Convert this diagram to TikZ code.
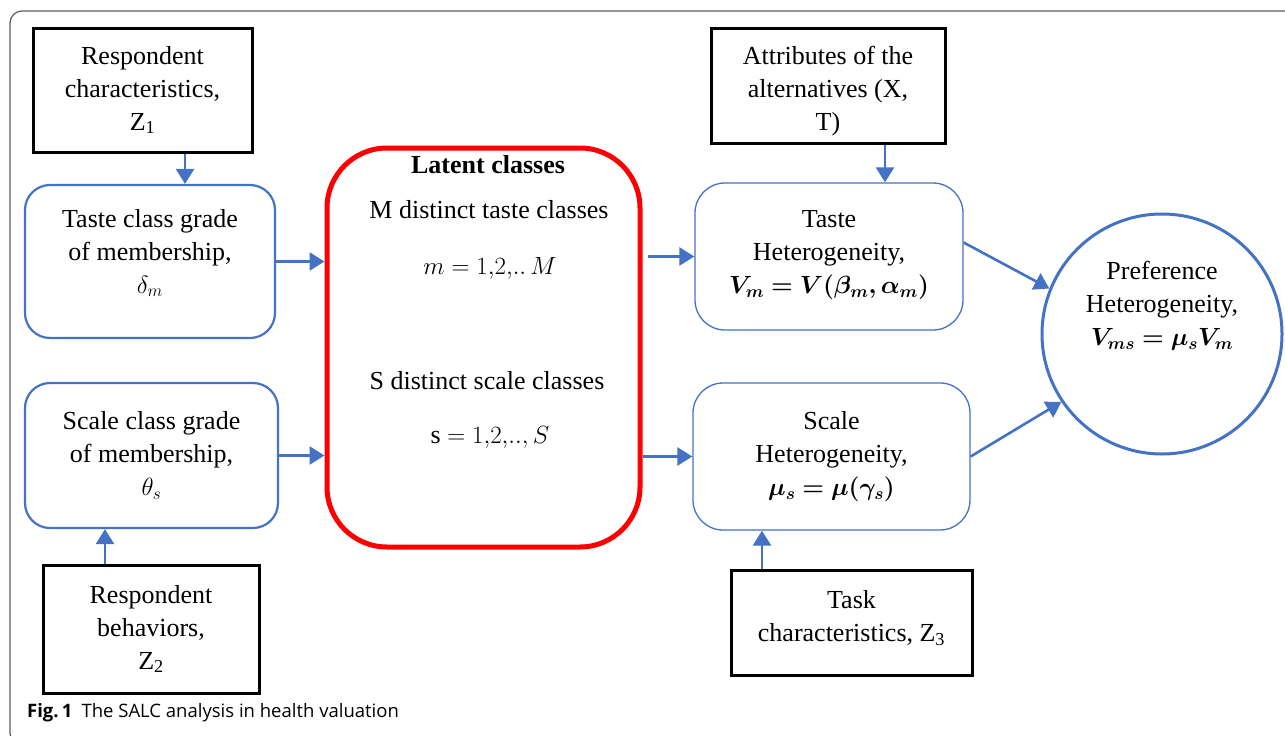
\documentclass[tikz,border=0pt]{standalone}
\usepackage{amsmath,bm}
\usepackage{fontspec}
\setmainfont{Liberation Serif}
\setsansfont{Open Sans}
\definecolor{flowblue}{RGB}{68, 114, 196}
\definecolor{latentred}{RGB}{255, 0, 0}
\definecolor{framegray}{RGB}{90, 90, 90}
\usetikzlibrary{arrows.meta}

\begin{document}
\begin{tikzpicture}[
                    x=1pt,
                    y=-1pt,
                    every node/.style={
                        align=center,
                        inner sep=0pt,
                        font=\fontsize{26}{33}\selectfont
                    },
                    inputbox/.style={
                        draw=black,
                        line width=3pt
                    },
                    gradebox/.style={
                        draw=flowblue,
                        line width=2.2pt,
                        rounded corners=25pt
                    },
                    hetbox/.style={
                        draw=flowblue,
                        line width=1.3pt,
                        rounded corners=30pt
                    },
                    latentbox/.style={
                        draw=latentred,
                        line width=5pt,
                        rounded corners=60pt
                    },
                    prefnode/.style={
                        circle,
                        draw=flowblue,
                        line width=3pt,
                        minimum size=240pt
                    },
                    flow/.style={
                        draw=flowblue,
                        line width=2.6pt,
                        -{Triangle[length=15pt,width=18pt]}
                    }
                ]
                    \useasboundingbox (0,0) rectangle (1285,736);
                    \draw[framegray, line width=1.2pt, rounded corners=12pt] (10,11) rectangle (1300,745);

                    \node[inputbox, minimum width=219pt, minimum height=124pt] (resp1) at (142.5,90)
                        {Respondent\\characteristics,\\Z\textsubscript{1}};
                    \node[gradebox, minimum width=250pt, minimum height=153pt] (tasteclass) at (150,261.5)
                        {Taste class grade\\of membership,\\$\delta_m$\\[-12pt]\mbox{}};
                    \node[gradebox, minimum width=253pt, minimum height=145pt] (scaleclass) at (151.5,455.5)
                        {Scale class grade\\of membership,\\$\theta_s$};
                    \node[inputbox, minimum width=216pt, minimum height=128pt] (resp2) at (151,629)
                        {Respondent\\behaviors,\\Z\textsubscript{2}};

                    \node[latentbox, minimum width=313pt, minimum height=399pt] (latent) at (483.5,347.5) {};
                    \node (latenthead) at (488,165) {\textbf{Latent classes}};
                    \node (tastecount) at (489,210) {M distinct taste classes};
                    \node (tasterange) at (490,268) {$m = 1{,}2{,}..\,M$};
                    \node (scalecount) at (487,381) {S distinct scale classes};
                    \node (scalerange) at (490,437) {s $= 1{,}2{,}..{,}\,S$};

                    \node[inputbox, minimum width=234pt, minimum height=115pt] (attrs) at (828,85.5)
                        {\mbox{}\\[-3pt]Attributes of the\\alternatives (X,\\T)};
                    \node[hetbox, minimum width=268pt, minimum height=147pt] (tastehet) at (829,256.5)
                        {Taste\\Heterogeneity,\\$\bm{V_m = V(\beta_m, \alpha_m)}$\\[-24pt]\mbox{}};
                    \node[hetbox, minimum width=277pt, minimum height=147pt] (scalehet) at (831.5,456.5)
                        {Scale\\Heterogeneity,\\$\bm{\mu_s = \mu(\gamma_s)}$};
                    \node[inputbox, minimum width=241pt, minimum height=105pt] (task) at (851.5,622.5)
                        {Task\\characteristics, Z\textsubscript{3}\\[-20pt]\mbox{}};

                    \node[prefnode] (pref) at (1162,334) {};
                    \node (preftext) at (1162,306)
                        {Preference\\Heterogeneity,\\$\bm{V_{ms} = \mu_s V_m}$};

                    \draw[flow] ([xshift=42.5pt]resp1.south) -- ([xshift=35pt]tasteclass.north);
                    \draw[flow] ([xshift=-46pt]resp2.north) -- ([xshift=-46.5pt]scaleclass.south);
                    \draw[flow] (tasteclass.east) -- (tasteclass.east -| latent.west);
                    \draw[flow] (scaleclass.east) -- (scaleclass.east -| latent.west);
                    \draw[flow, shorten <=5pt] (latent.east |- tastehet.west) -- (tastehet.west);
                    \draw[flow] (latent.east |- scalehet.west) -- (scalehet.west);
                    \draw[flow] ([xshift=57pt]attrs.south) -- ([xshift=56pt]tastehet.north);
                    \draw[flow] ([xshift=-89.5pt]task.north) -- ([xshift=-69.5pt]scalehet.south);
                    \draw[flow] ([yshift=14pt]tastehet.east) -- (pref.158);
                    \draw[flow] (scalehet.east) -- (pref.214);

                    \node[anchor=base west, font=\sffamily\fontsize{18.5}{22}\selectfont] (caption) at (27,717)
                        {\textbf{Fig.\,1}\enspace The SALC analysis in health valuation};
                \end{tikzpicture}
\end{document}
